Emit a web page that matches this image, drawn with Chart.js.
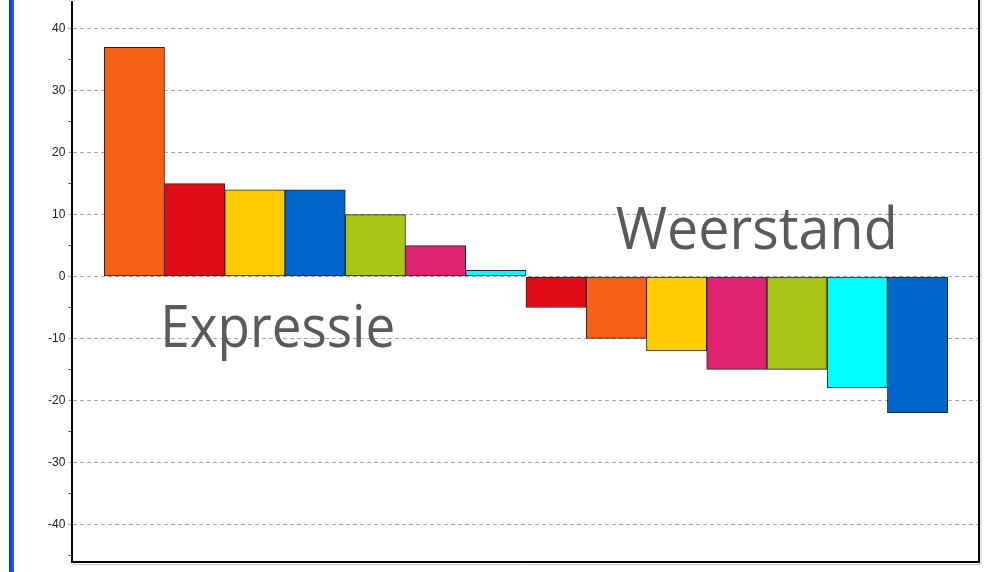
<!DOCTYPE html>
<html>
<head>
<meta charset="utf-8">
<script src="https://cdn.jsdelivr.net/npm/chart.js@4.4.1/dist/chart.umd.min.js"></script>
<style>
  html, body { margin: 0; padding: 0; background: #fff; overflow: hidden; }
  #page { position: relative; width: 994px; height: 572px; overflow: hidden; }
  #wrap { position: absolute; left: 0; top: -8px; width: 994px; height: 587px; }
  #edge { position: absolute; left: 9px; top: 0; width: 5px; height: 572px;
          background: linear-gradient(to right, #0736c8, #2466f4); }
</style>
</head>
<body>
<div id="page">
  <div id="wrap"><canvas id="chart"></canvas></div>
  <div id="edge"></div>
</div>
<script>
// data
const expressieCats = ['Oranje', 'Rood', 'Geel', 'Blauw', 'Groen', 'Roze', 'Cyaan'];
const expressieValues = [37, 15, 14, 14, 10, 5, 1];
const weerstandCats = ['Rood', 'Oranje', 'Geel', 'Roze', 'Groen', 'Cyaan', 'Blauw'];
const weerstandValues = [-5, -10, -12, -15, -15, -18, -22];
const yTicks = [-45, -40, -35, -30, -25, -20, -15, -10, -5, 0, 5, 10, 15, 20, 25, 30, 35, 40];

const palette = {
  Oranje: '#f76116',
  Rood: '#e20c19',
  Geel: '#ffcc00',
  Blauw: '#0066cc',
  Groen: '#a8c417',
  Roze: '#e02273',
  Cyaan: '#00ffff'
};

// big group captions, placed in data units
const notes = [
  { text: 'Expressie', from: 0.43, to: 4.33, base: -11.3 },
  { text: 'Weerstand', from: 7.99, to: 12.67, base: 4.5 }
];

const expressiePoints = expressieValues.map((v, i) => ({ x: i, y: v }));
const weerstandPoints = weerstandValues.map((v, i) => ({ x: i + expressieValues.length, y: v }));

const frame = {
  id: 'frame',
  afterDraw(chart) {
    const { ctx, chartArea: a, scales: { x, y } } = chart;
    ctx.save();
    ctx.strokeStyle = '#c8c8c8';
    ctx.lineWidth = 1;
    ctx.beginPath();
    ctx.moveTo(a.right + 2, 0); ctx.lineTo(a.right + 2, a.bottom + 2.5);
    ctx.lineTo(a.left, a.bottom + 2.5);
    ctx.stroke();
    ctx.strokeStyle = '#000';
    ctx.lineWidth = 2;
    ctx.beginPath();
    ctx.moveTo(a.right, 0); ctx.lineTo(a.right, a.bottom);
    ctx.stroke();

    ctx.fillStyle = '#5a5a5a';
    ctx.font = '58px "Open Sans"';
    ctx.textBaseline = 'alphabetic';
    notes.forEach(n => {
      const x0 = x.getPixelForValue(n.from);
      const x1 = x.getPixelForValue(n.to);
      const w = ctx.measureText(n.text).width;
      ctx.save();
      ctx.translate(x0, y.getPixelForValue(n.base));
      ctx.scale((x1 - x0) / w, 1);
      ctx.fillText(n.text, 0, 0);
      ctx.restore();
    });
    ctx.restore();
  }
};

const barStyle = {
  borderColor: '#222',
  borderWidth: 1,
  borderSkipped: false,
  barPercentage: 1,
  categoryPercentage: 1,
  grouped: false
};

new Chart(document.getElementById('chart'), {
  type: 'bar',
  data: {
    datasets: [
      { label: 'Expressie', data: expressiePoints,
        backgroundColor: expressieCats.map(c => palette[c]), ...barStyle },
      { label: 'Weerstand', data: weerstandPoints,
        backgroundColor: weerstandCats.map(c => palette[c]), ...barStyle }
    ]
  },
  options: {
    responsive: true,
    maintainAspectRatio: false,
    animation: false,
    layout: { padding: { left: 45, right: 15, top: 0, bottom: 9 } },
    plugins: { legend: { display: false }, tooltip: { enabled: false } },
    scales: {
      x: {
        type: 'linear',
        offset: false,
        min: -1.03,
        max: 14.02,
        ticks: { display: false },
        grid: { display: false },
        border: { display: true, color: '#000', width: 2 }
      },
      y: {
        min: -46.1,
        max: 44.3,
        afterBuildTicks: s => { s.ticks = yTicks.map(v => ({ value: v })); },
        ticks: {
          padding: 3,
          color: '#222',
          font: { family: '"Liberation Sans", Arial, sans-serif', size: 12 },
          callback: v => (v % 10 === 0 ? String(v) : '')
        },
        grid: {
          color: c => (c.tick && c.tick.value % 10 === 0 ? '#a6a6a6' : 'transparent'),
          tickColor: c => (c.tick && c.tick.value % 10 === 0 ? '#a6a6a6' : '#555'),
          tickLength: 4,
          lineWidth: 1
        },
        border: { display: true, color: '#000', width: 2, dash: [4, 3] }
      }
    }
  },
  plugins: [frame]
});
</script>
</body>
</html>
